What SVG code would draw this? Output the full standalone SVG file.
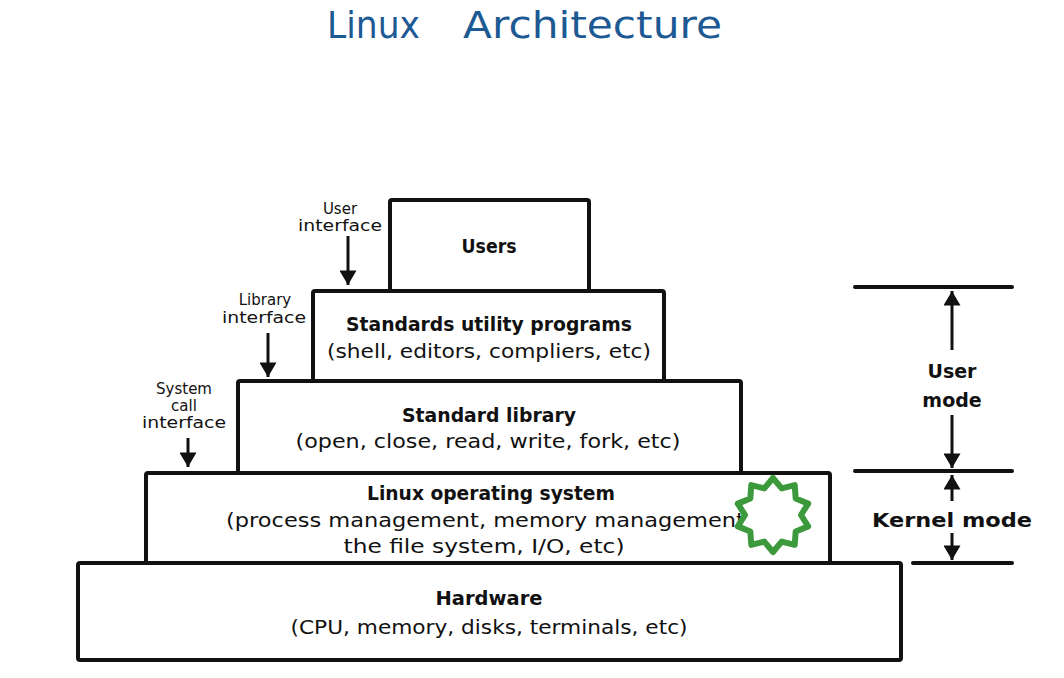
<svg xmlns="http://www.w3.org/2000/svg" width="1064" height="678" viewBox="0 0 1064 678">
<style>
.box{fill:#fff;stroke:#111;stroke-width:4;stroke-linejoin:round}
.t{font-family:"DejaVu Sans","Liberation Sans",sans-serif;fill:#111;text-anchor:middle}
.b{font-weight:bold;font-size:19px}
.r{font-size:19px}
.s{font-size:15px}
.ln{stroke:#111;stroke-width:4;stroke-linecap:round}
.sh{stroke:#111;stroke-width:3}
.title{font-family:"DejaVu Sans","Liberation Sans",sans-serif;font-size:38px;fill:#1d5a93}
</style>
<defs>
<marker id="ah" markerWidth="20" markerHeight="17" refX="17" refY="10" orient="auto" markerUnits="userSpaceOnUse" viewBox="0 0 17 20">
<path d="M0,0 L17,10 L0,20 Z" fill="#111"/>
</marker>
</defs>
<rect width="1064" height="678" fill="#fff"/>
<g id="title">
<text class="title" x="327" y="38" textLength="93" lengthAdjust="spacingAndGlyphs">Linux</text>
<text class="title" x="463" y="38" textLength="259" lengthAdjust="spacingAndGlyphs">Architecture</text>
</g>
<g id="hardware">
<rect class="box" x="78" y="563" width="823" height="97" rx="2"/>
<text class="t b" x="489" y="605" textLength="107" lengthAdjust="spacingAndGlyphs">Hardware</text>
<text class="t r" x="489" y="634" textLength="397" lengthAdjust="spacingAndGlyphs">(CPU, memory, disks, terminals, etc)</text>
</g>
<g id="linux-os">
<rect class="box" x="146" y="473" width="684" height="90" rx="2"/>
<text class="t b" x="491" y="500" textLength="248" lengthAdjust="spacingAndGlyphs">Linux operating system</text>
<text class="t r" x="489" y="527" textLength="526" lengthAdjust="spacingAndGlyphs">(process management, memory management,</text>
<text class="t r" x="484" y="553" textLength="281" lengthAdjust="spacingAndGlyphs">the file system, I/O, etc)</text>
</g>
<g id="standard-library">
<rect class="box" x="238" y="381" width="503" height="92" rx="2"/>
<text class="t b" x="489" y="422" textLength="174" lengthAdjust="spacingAndGlyphs">Standard library</text>
<text class="t r" x="488" y="448" textLength="385" lengthAdjust="spacingAndGlyphs">(open, close, read, write, fork, etc)</text>
</g>
<g id="utility-programs">
<rect class="box" x="313" y="291" width="351" height="90" rx="2"/>
<text class="t b" x="489" y="331" textLength="286" lengthAdjust="spacingAndGlyphs">Standards utility programs</text>
<text class="t r" x="489" y="358" textLength="324" lengthAdjust="spacingAndGlyphs">(shell, editors, compliers, etc)</text>
</g>
<g id="users">
<rect class="box" x="390" y="200" width="199" height="91" rx="2"/>
<text class="t b" x="489" y="253" textLength="55" lengthAdjust="spacingAndGlyphs">Users</text>
</g>
<g id="star">
<polygon fill="#fff" stroke="#3c9a3c" stroke-width="6" stroke-linejoin="round" points="773,478 781.7,488.4 794.7,485.1 795.7,498.5 808.2,503.6 801,515 808.2,526.4 795.7,531.5 794.7,544.9 781.7,541.6 773,552 764.3,541.6 751.3,544.9 750.3,531.5 737.8,526.4 745,515 737.8,503.6 750.3,498.5 751.3,485.1 764.3,488.4"/>
</g>
<g id="connectors">
<line class="sh" x1="348" y1="236" x2="348" y2="285" marker-end="url(#ah)"/>
<line class="sh" x1="268" y1="333" x2="268" y2="377" marker-end="url(#ah)"/>
<line class="sh" x1="188" y1="438" x2="188" y2="467" marker-end="url(#ah)"/>
<line class="ln" x1="855" y1="287" x2="1012" y2="287"/>
<line class="ln" x1="855" y1="471" x2="1012" y2="471"/>
<line class="ln" x1="913" y1="563" x2="1012" y2="563"/>
<line class="sh" x1="952" y1="350" x2="952" y2="291" marker-end="url(#ah)"/>
<line class="sh" x1="952" y1="415" x2="952" y2="468" marker-end="url(#ah)"/>
<line class="sh" x1="952" y1="501" x2="952" y2="475" marker-end="url(#ah)"/>
<line class="sh" x1="952" y1="533" x2="952" y2="560" marker-end="url(#ah)"/>
</g>
<g id="labels">
<text class="t s" x="340" y="214">User</text>
<text class="t s" x="340" y="231" textLength="84" lengthAdjust="spacingAndGlyphs">interface</text>
<text class="t s" x="265" y="305">Library</text>
<text class="t s" x="264" y="323" textLength="84" lengthAdjust="spacingAndGlyphs">interface</text>
<text class="t s" x="184" y="394">System</text>
<text class="t s" x="184" y="411">call</text>
<text class="t s" x="184" y="428" textLength="84" lengthAdjust="spacingAndGlyphs">interface</text>
<text class="t b" x="952" y="378" font-size="21">User</text>
<text class="t b" x="952" y="407" font-size="21">mode</text>
<text class="t b" x="952" y="527" textLength="160" lengthAdjust="spacingAndGlyphs">Kernel mode</text>
</g>
</svg>
